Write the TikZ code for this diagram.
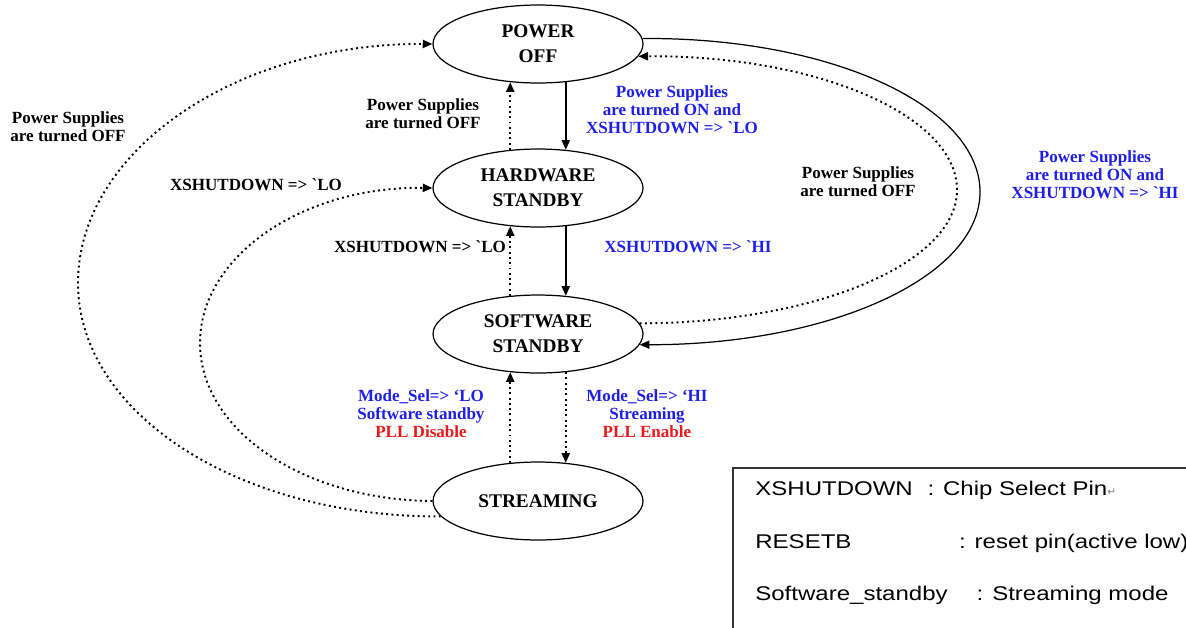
\documentclass[tikz,border=0pt]{standalone}
\usepackage{fontspec}
\setmainfont{Liberation Serif}
\newfontfamily\legendfont[FakeStretch=1.21]{Liberation Sans}
\newfontfamily\markfont{DejaVu Sans}
\usetikzlibrary{arrows.meta,shapes.geometric}
\definecolor{lblblue}{RGB}{30,30,235}
\definecolor{lblred}{RGB}{235,25,25}

\begin{document}
\begin{tikzpicture}[x=0.02cm,y=-0.02cm,
        state/.style={draw,ellipse,line width=0.7pt,minimum width=4.2cm,minimum height=1.56cm,inner sep=0pt,align=center,font=\bfseries\fontsize{11}{14.2}\selectfont},
        lbl/.style={align=center,font=\bfseries\fontsize{9.7}{10.2}\selectfont},
        legend/.style={anchor=west,inner sep=0pt,font=\legendfont\fontsize{11.3}{13}\selectfont},
        solidarrow/.style={line width=1.1pt,-{Triangle[length=5.5pt,width=4.6pt]}},
        thinarrow/.style={line width=0.7pt,-{Triangle[length=5.5pt,width=4.6pt]}},
        dotarrow/.style={line width=1.1pt,dash pattern=on 1.1pt off 1.9pt,-{Triangle[length=5.5pt,width=4.6pt]}}]
        \useasboundingbox (0,0) rectangle (1186,627);
        \clip (0,0) rectangle (1186,627);
        \node[state](off) at (538,44) {POWER\\OFF};
        \node[state](hw) at (538,188) {HARDWARE\\STANDBY};
        \node[state](sw) at (538,334) {SOFTWARE\\STANDBY};
        \node[state](st) at (538,501) {STREAMING};
        \draw[solidarrow](off.-54)--(hw.54);
        \draw[dotarrow](hw.126)--(off.-126);
        \draw[solidarrow](hw.-54)--(sw.54);
        \draw[dotarrow](sw.126)--(hw.-126);
        \draw[dotarrow](sw.-54)--(st.54);
        \draw[dotarrow](st.126)--(sw.-126);
        \draw[dotarrow](st.189) .. controls (236,517) and (78,412) .. (78,283) .. controls (78,151) and (236,43) .. (off.west);
        \draw[dotarrow](st.west) .. controls (303,500) and (200,430) .. (200,343) .. controls (200,256) and (303,186) .. (hw.west);
        \draw[thinarrow](off.3) .. controls (830,37) and (980,106) .. (980,192) .. controls (980,277) and (830,345) .. (sw.-6);
        \draw[dotarrow](sw.6) .. controls (816,323) and (957,263) .. (957,190) .. controls (957,115) and (816,55) .. (off.-7);
        \node[lbl](offleft) at (68,127) {Power Supplies\\are turned OFF};
        \node[lbl](offmid) at (423,114) {Power Supplies\\are turned OFF};
        \node[lbl,text=lblblue](onlo) at (672,110) {Power Supplies\\are turned ON and\\XSHUTDOWN => \textasciigrave LO};
        \node[lbl](hwlo) at (256,185) {XSHUTDOWN => \textasciigrave LO};
        \node[lbl](swlo) at (420,247) {XSHUTDOWN => \textasciigrave LO};
        \node[lbl,text=lblblue](swhi) at (688,247) {XSHUTDOWN => \textasciigrave HI};
        \node[lbl](offright) at (858,182) {Power Supplies\\are turned OFF};
        \node[lbl,text=lblblue](onhi) at (1095,175) {Power Supplies\\are turned ON and\\XSHUTDOWN => \textasciigrave HI};
        \node[lbl,text=lblblue](modelo) at (421,414) {Mode\_Sel=> `LO\\Software standby\\\textcolor{lblred}{PLL Disable}};
        \node[lbl,text=lblblue](modehi) at (647,414) {Mode\_Sel=> `HI\\Streaming\\\textcolor{lblred}{PLL Enable}};
        \draw[line width=0.6pt,black!80](733,468) rectangle (1250,680);
        \node[legend](xsd) at (755,490) {\makebox[98pt][l]{XSHUTDOWN}: Chip Select Pin{\markfont\color{gray}\fontsize{6}{6}\selectfont ↵}};
        \node[legend](rst) at (755,543) {\makebox[116pt][l]{RESETB}: reset pin(active low)};
        \node[legend](sws) at (755,595) {\makebox[126pt][l]{Software\_standby}: Streaming mode};
        \end{tikzpicture}
\end{document}
